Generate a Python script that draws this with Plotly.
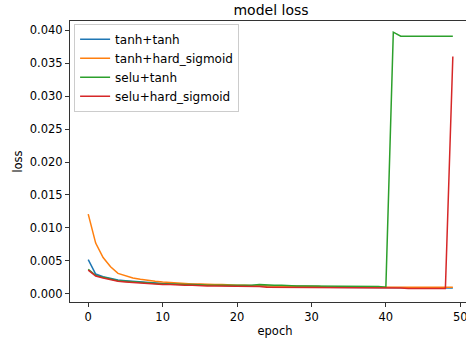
import plotly.graph_objects as go

epochs = list(range(50))

tanh_tanh = [0.0052, 0.0030, 0.0026, 0.0023, 0.0021, 0.0020, 0.0019, 0.0018, 0.0017, 0.0016,
             0.0016, 0.0015, 0.0015, 0.0014, 0.0014, 0.0014, 0.0013, 0.0013, 0.0013, 0.0012,
             0.0012, 0.0012, 0.0013, 0.0013, 0.0012, 0.0012, 0.0011, 0.0011, 0.0011, 0.0011,
             0.0011, 0.0011, 0.0010, 0.0010, 0.0010, 0.0010, 0.0010, 0.0010, 0.0010, 0.0010,
             0.0009, 0.0009, 0.0009, 0.0009, 0.0009, 0.0009, 0.0009, 0.0009, 0.0009, 0.0009]

tanh_hard_sigmoid = [0.0121, 0.0077, 0.0055, 0.0041, 0.0031, 0.0027, 0.0024, 0.0022, 0.0020, 0.0019,
                     0.0018, 0.0017, 0.0016, 0.0016, 0.0015, 0.0015, 0.0014, 0.0014, 0.0014, 0.0013,
                     0.0013, 0.0013, 0.0012, 0.0012, 0.0012, 0.0012, 0.0011, 0.0011, 0.0011, 0.0011,
                     0.0011, 0.0011, 0.0010, 0.0010, 0.0010, 0.0010, 0.0010, 0.0010, 0.0010, 0.0010,
                     0.0010, 0.0010, 0.0009, 0.0009, 0.0009, 0.0009, 0.0009, 0.0009, 0.0009, 0.0010]

selu_tanh = [0.0037, 0.0028, 0.0025, 0.0022, 0.0020, 0.0019, 0.0018, 0.0017, 0.0016, 0.0016,
             0.0015, 0.0015, 0.0014, 0.0014, 0.0014, 0.0013, 0.0013, 0.0013, 0.0013, 0.0012,
             0.0012, 0.0013, 0.0013, 0.0014, 0.0013, 0.0013, 0.0013, 0.0012, 0.0012, 0.0012,
             0.0012, 0.0012, 0.0012, 0.0012, 0.0012, 0.0011, 0.0011, 0.0011, 0.0011, 0.0011,
             0.0010, 0.0397, 0.0391, 0.0391, 0.0391, 0.0391, 0.0391, 0.0391, 0.0391, 0.0391]

selu_hard_sigmoid = [0.0036, 0.0027, 0.0024, 0.0021, 0.0019, 0.0018, 0.0017, 0.0016, 0.0015, 0.0015,
                     0.0014, 0.0014, 0.0013, 0.0013, 0.0013, 0.0012, 0.0012, 0.0012, 0.0012, 0.0011,
                     0.0011, 0.0011, 0.0011, 0.0011, 0.0010, 0.0010, 0.0010, 0.0010, 0.0010, 0.0010,
                     0.0010, 0.0009, 0.0009, 0.0009, 0.0009, 0.0009, 0.0009, 0.0009, 0.0009, 0.0009,
                     0.0009, 0.0009, 0.0009, 0.0008, 0.0008, 0.0008, 0.0008, 0.0008, 0.0008, 0.0360]

series_names = ["tanh+tanh", "tanh+hard_sigmoid", "selu+tanh", "selu+hard_sigmoid"]
series_values = [tanh_tanh, tanh_hard_sigmoid, selu_tanh, selu_hard_sigmoid]
colors = ["#1f77b4", "#ff7f0e", "#2ca02c", "#d62728"]

y_ticks = [0.000, 0.005, 0.010, 0.015, 0.020, 0.025, 0.030, 0.035, 0.040]
x_ticks = [0, 10, 20, 30, 40, 50]

FONT = "DejaVu Sans"
W = 480

fig = go.Figure()
for name, vals, c in zip(series_names, series_values, colors):
    fig.add_trace(go.Scatter(x=epochs, y=vals, mode="lines", name=name,
                             line=dict(color=c, width=1.5)))

fig.update_layout(
    width=W, height=346,
    margin=dict(l=70, r=0, t=21, b=44),
    paper_bgcolor="white", plot_bgcolor="white",
    font=dict(family=FONT, size=11.5, color="#000"),
    title=dict(text="model loss", font=dict(family=FONT, size=14, color="#000"),
               x=271 / W, xanchor="center", xref="container", y=1 - 15 / 346, yanchor="bottom"),
    showlegend=True,
    legend=dict(x=0.01, y=0.99, xanchor="left", yanchor="top",
                bgcolor="rgba(255,255,255,0.8)", bordercolor="#cccccc", borderwidth=1,
                font=dict(family=FONT, size=12, color="#000"),
                tracegroupgap=0, itemwidth=30),
)
fig.update_xaxes(
    range=[-2.45, 52.65], tickvals=x_ticks, ticktext=[str(t) for t in x_ticks],
    showgrid=False, zeroline=False, showline=True, linecolor="#333", linewidth=1,
    mirror=True, ticks="outside", ticklen=4, tickcolor="#333", automargin=False,
    title=dict(text="epoch", font=dict(family=FONT, size=11.5), standoff=4),
)
fig.update_yaxes(
    range=[-0.00124, 0.0414], tickvals=y_ticks, ticktext=[f"{t:.3f}" for t in y_ticks],
    showgrid=False, zeroline=False, showline=True, linecolor="#333", linewidth=1,
    mirror=False, ticks="outside", ticklen=4, tickcolor="#333", automargin=False,
    title=dict(text="loss", font=dict(family=FONT, size=11.5), standoff=4),
)

fig.write_html("out.html", config={"displayModeBar": False},
               post_script="document.body.style.margin='0';document.body.style.overflow='hidden';")
